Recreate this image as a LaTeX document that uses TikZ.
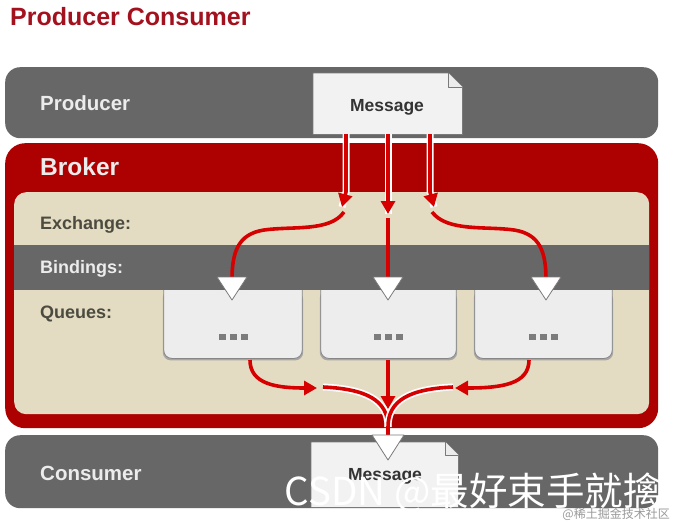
\documentclass[tikz,border=0pt]{standalone}
\usepackage{fontspec}
\setmainfont{Liberation Sans}
\newfontfamily\cjk{Noto Sans CJK SC}
\usetikzlibrary{arrows.meta}
\definecolor{bandgray}{HTML}{676767}
\definecolor{brokerred}{HTML}{AD0000}
\definecolor{beige}{HTML}{E4DCC2}
\definecolor{arrowred}{HTML}{D60000}
\definecolor{titlered}{HTML}{A3111F}
\definecolor{lighttext}{HTML}{ECECEC}
\definecolor{darktext}{HTML}{4B4B40}
\definecolor{boxfill}{HTML}{F2F2F2}
\definecolor{boxline}{HTML}{7A7A7A}
\definecolor{dotgray}{HTML}{7C7C7C}
\tikzset{
  band/.style={fill=bandgray, rounded corners=15pt, draw=none},
  bandlabel/.style={anchor=base west, inner sep=0pt, text=lighttext, font=\bfseries\fontsize{20.5}{20.5}\selectfont},
  beigelabel/.style={anchor=base west, inner sep=0pt, text=darktext, font=\bfseries\fontsize{18}{18}\selectfont},
  msgtext/.style={anchor=base, inner sep=0pt, text=black!80, font=\bfseries\fontsize{17.5}{17.5}\selectfont},
  flow/.style={draw=arrowred, line width=3.6pt, -{Triangle[length=13pt,width=14pt]}},
  flowplain/.style={draw=arrowred, line width=3.6pt},
  cased/.style={preaction={draw=white, line width=7pt, -}},
  tri/.style={fill=white, draw=boxline, line width=0.8pt, line join=round},
}
\begin{document}
\begin{tikzpicture}[x=1pt,y=-1pt]
\useasboundingbox (0,0) rectangle (675,525);
\fill[white] (0,0) rectangle (675,525);

% title
\node[anchor=base west, inner sep=0pt, text=titlered, font=\bfseries\fontsize{25}{25}\selectfont] (title) at (10,25) {Producer Consumer};

% producer band
\node[band, minimum width=653pt, minimum height=71pt, anchor=north west] (producer) at (5,67) {};
\node[bandlabel] (producerlbl) at (40,110) {Producer};

% broker
\node[fill=brokerred, rounded corners=20pt, minimum width=653pt, minimum height=285pt, anchor=north west] (broker) at (5,143) {};
\node[anchor=base west, inner sep=0pt, text=lighttext, font=\bfseries\fontsize{24.5}{24.5}\selectfont] (brokerlbl) at (40,175) {Broker};
\node[fill=beige, rounded corners=12pt, minimum width=635pt, minimum height=222pt, anchor=north west] (inner) at (14,192) {};
\node[fill=bandgray, minimum width=635pt, minimum height=45pt, anchor=north west, inner sep=0pt] (bindings) at (14,245) {};
\node[beigelabel] (exlbl) at (40,229) {Exchange:};
\node[beigelabel, text=lighttext] (bindlbl) at (40,273) {Bindings:};
\node[beigelabel] (qlbl) at (40,318) {Queues:};

% consumer band
\node[band, minimum width=653pt, minimum height=73pt, anchor=north west] (consumer) at (5,435) {};
\node[bandlabel] (consumerlbl) at (40,480) {Consumer};

% message boxes (folded corner)
\node[minimum width=149pt, minimum height=61pt, anchor=north west, inner sep=0pt] (msg1) at (313,73) {};
\draw[fill=boxfill, draw=boxline, line width=0.8pt, line join=round]
  (msg1.south west) -- (msg1.north west) -- ([xshift=-14pt]msg1.north east)
  -- ([yshift=-14pt]msg1.north east) -- (msg1.south east) -- cycle;
\draw[fill=white!85!gray, draw=boxline, line width=0.6pt, line join=round]
  ([xshift=-14pt]msg1.north east) -- ([xshift=-14pt,yshift=-14pt]msg1.north east) -- ([yshift=-14pt]msg1.north east);
\node[msgtext] (msg1txt) at (387,111) {Message};

\node[minimum width=147pt, minimum height=65pt, anchor=north west, inner sep=0pt] (msg2) at (311,442) {};
\draw[fill=boxfill, draw=boxline, line width=0.8pt, line join=round]
  (msg2.south west) -- (msg2.north west) -- ([xshift=-13pt]msg2.north east)
  -- ([yshift=-13pt]msg2.north east) -- (msg2.south east) -- cycle;
\draw[fill=white!85!gray, draw=boxline, line width=0.6pt, line join=round]
  ([xshift=-13pt]msg2.north east) -- ([xshift=-13pt,yshift=-13pt]msg2.north east) -- ([yshift=-13pt]msg2.north east);
\node[msgtext] (msg2txt) at (385,480) {Message};

% queues
\foreach \n/\cx/\w in {q1/233/138, q2/388.5/135, q3/543.5/137}{
  \node[minimum width=\w pt, minimum height=68pt, inner sep=0pt, anchor=north] (\n) at (\cx,290) {};
  \fill[black!35, rounded corners=8pt] ([xshift=1pt,yshift=-2pt]\n.north east) -- ([xshift=1pt,yshift=-2pt]\n.south east) -- ([xshift=-1pt,yshift=-2pt]\n.south west) -- ([xshift=-1pt]\n.north west) -- cycle;
  \draw[fill=boxfill!96!gray, draw=boxline!90, line width=0.8pt, rounded corners=8pt]
    (\n.north east) -- (\n.south east) -- (\n.south west) -- (\n.north west);
  \foreach \dx in {-11,0,11}{
    \fill[dotgray] ([xshift=\dx pt, yshift=-13pt]\n.center) ++(-3.5,-3) rectangle ++(7,6);
  }
}

% coordinates for connectors
\coordinate (m1) at (346,134);
\coordinate (m2) at (388,134);
\coordinate (m3) at (430,134);
\coordinate (e1) at (342,207);
\coordinate (e2) at (388,214);
\coordinate (e3) at (434,207);
\coordinate (s1) at (344,212);
\coordinate (s2) at (388,218);
\coordinate (s3) at (432,212);
\coordinate (t1) at (232,300);
\coordinate (t2) at (388,300);
\coordinate (t3) at (546,300);
\coordinate (b1) at (250,360);
\coordinate (b2) at (388,360);
\coordinate (b3) at (529,360);
\coordinate (a1) at (317,388);
\coordinate (a2) at (388,409);
\coordinate (a3) at (455,388);
\coordinate (c1) at (323,387);
\coordinate (c3) at (453,387);
\coordinate (mg) at (388,427);
\coordinate (tc) at (388,460);

% producer message -> exchange
\draw[flow, cased] (m1) -- (346,192) -- (e1);
\draw[flow, cased] (m2) -- (e2);
\draw[flow, cased] (m3) -- (430,192) -- (e3);

% exchange -> bindings -> queues
\draw[flowplain] (s1) .. controls (330,232) and (292,226) .. (264,230) .. controls (238,234) and (232,252) .. ([yshift=20pt]t1);
\draw[flowplain] (s2) -- ([yshift=20pt]t2);
\draw[flowplain] (s3) .. controls (447,232) and (486,226) .. (514,230) .. controls (540,234) and (546,252) .. ([yshift=20pt]t3);

% queues -> consumer
\draw[flow] (b1) .. controls (250,384) and (276,388) .. (a1);
\draw[flow] (b2) -- (a2);
\draw[flow] (b3) .. controls (529,384) and (502,388) .. (a3);
\draw[flowplain, cased] (c1) .. controls (366,389) and (388,400) .. (mg);
\draw[flowplain, cased] (c3) .. controls (410,389) and (388,400) .. (mg);
\draw[flowplain] (mg) -- ([yshift=20pt]tc);

% triangles
\foreach \t in {t1,t2,t3}{
  \draw[tri] (\t) -- ++(-15,-23) -- ++(30,0) -- cycle;
}
\draw[tri] (tc) -- ++(-16,-25) -- ++(32,0) -- cycle;

% watermark
\node[anchor=base east, text=white, font=\cjk\fontsize{38.5}{38.5}\selectfont, inner sep=0pt] (wm) at (662,505) {CSDN @最好束手就擒};
\node[anchor=base east, text=black!40, font=\cjk\fontsize{12}{12}\selectfont, inner sep=0pt] (wm2) at (670,518) {@稀土掘金技术社区};
\end{tikzpicture}
\end{document}
